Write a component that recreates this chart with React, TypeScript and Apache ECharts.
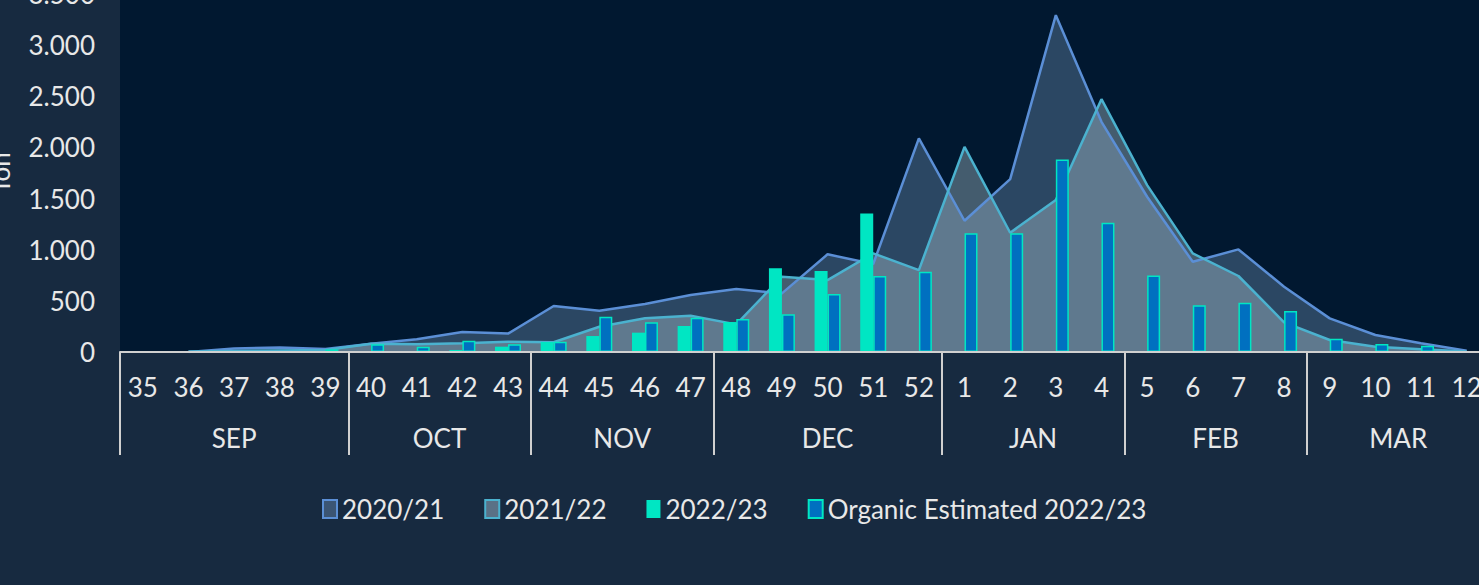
import React, { useEffect, useRef } from "react";
import * as echarts from "echarts";

const weeks = ["35","36","37","38","39","40","41","42","43","44","45","46","47","48","49","50","51","52","1","2","3","4","5","6","7","8","9","10","11","12"];
const monthNames = ["SEP","OCT","NOV","DEC","JAN","FEB","MAR"];
const monthWeekCounts = [5,4,4,5,4,4,4];

const s2020 = [null,0,35,45,30,80,124,195,180,450,404,469,557,616,573,955,860,2088,1283,1690,3293,2250,1518,882,1003,638,329,166,85,13];
const s2021 = [null,5,10,15,20,80,75,85,101,95,247,329,355,270,736,703,964,801,2006,1166,1485,2472,1632,964,743,290,117,52,26,5];
const s2022 = [null,null,null,null,null,null,8,20,52,98,156,189,254,293,818,792,1355,null,null,null,null,null,null,null,null,null,null,null,null,null];
const organic = [5,5,5,5,26,75,52,111,75,101,345,290,336,322,368,567,743,785,1160,1160,1883,1264,749,456,482,401,130,78,62,null];

const yMax = 3500;
const yStep = 500;

const FONT = "Lato";
const TXT = "#e8e8e8";

export default function App() {
  const ref = useRef<HTMLDivElement>(null);
  useEffect(() => {
    if (!ref.current) return;
    const chart = echarts.init(ref.current, null, { renderer: "svg" });
    const bounds: number[] = [0];
    monthWeekCounts.forEach((c) => bounds.push(bounds[bounds.length - 1] + c));
    const centers = monthWeekCounts.map((c, i) => bounds[i] + c / 2);
    const n = weeks.length;
    const band = 45.65;
    const fmtY = (v: number) =>
      v >= 1000 ? `${Math.floor(v / 1000)}.${String(v % 1000).padStart(3, "0")}` : String(v);

    chart.setOption({
      animation: false,
      backgroundColor: "#172a40",
      textStyle: { fontFamily: FONT },
      grid: {
        left: 120,
        top: -6,
        height: 358,
        width: band * n,
        show: true,
        backgroundColor: "#011830",
        borderWidth: 0,
        containLabel: false,
        outerBoundsMode: "none",
      },
      legend: {
        left: 322,
        top: 496,
        padding: 0,
        itemWidth: 14,
        itemHeight: 18,
        itemGap: 40,
        textStyle: { color: TXT, fontSize: 26, fontFamily: FONT },
        data: [
          { name: "2020/21", icon: "rect", itemStyle: { color: "#3b5574", borderColor: "#5b8fd6", borderWidth: 2 } },
          { name: "2021/22", icon: "rect", itemStyle: { color: "#5a7186", borderColor: "#4bb2cf", borderWidth: 2 } },
          { name: "2022/23", icon: "rect", itemStyle: { color: "#00e6c3", borderWidth: 0 } },
          { name: "Organic Estimated 2022/23", icon: "rect", itemStyle: { color: "#0070c0", borderColor: "#00e6c3", borderWidth: 2 } },
        ],
      },
      xAxis: [
        {
          type: "category",
          data: weeks,
          boundaryGap: true,
          axisLine: { show: true, lineStyle: { color: "#d0d0d0", width: 2 } },
          axisTick: { show: false },
          axisLabel: { color: TXT, fontSize: 26, fontFamily: FONT, margin: 22, interval: 0 },
          splitLine: { show: false },
          z: 10,
        },
        {
          type: "value",
          min: 0,
          max: n,
          position: "bottom",
          axisLine: { show: false },
          splitLine: { show: false },
          axisTick: {
            show: true,
            customValues: bounds,
            length: 103,
            lineStyle: { color: "#d0d0d0", width: 2 },
          },
          axisLabel: {
            show: true,
            customValues: centers,
            margin: 73,
            color: TXT,
            fontSize: 26,
            fontFamily: FONT,
            formatter: (v: number) => {
              const i = centers.findIndex((c) => Math.abs(c - v) < 1e-6);
              return i >= 0 ? monthNames[i] : "";
            },
          },
        },
      ],
      yAxis: {
        type: "value",
        min: 0,
        max: yMax,
        interval: yStep,
        name: "Ton",
        nameLocation: "middle",
        nameRotate: 90,
        nameGap: 107,
        nameTextStyle: { color: TXT, fontSize: 26, fontFamily: FONT },
        axisLine: { show: false },
        axisTick: { show: false },
        splitLine: { show: false },
        axisLabel: { color: TXT, fontSize: 26, fontFamily: FONT, margin: 25, formatter: fmtY },
      },
      series: [
        {
          name: "2020/21",
          type: "line",
          z: 2,
          data: s2020,
          symbol: "none",
          lineStyle: { color: "#5b8fd6", width: 2.5 },
          itemStyle: { color: "#5b8fd6" },
          areaStyle: { color: "rgba(86,117,150,0.5)", opacity: 1 },
        },
        {
          name: "2021/22",
          type: "line",
          z: 2,
          data: s2021,
          symbol: "none",
          lineStyle: { color: "#4bb2cf", width: 2.5 },
          itemStyle: { color: "#4bb2cf" },
          areaStyle: { color: "rgba(184,208,216,0.37)", opacity: 1 },
        },
        {
          name: "2022/23",
          type: "bar",
          z: 5,
          data: s2022,
          barWidth: 13,
          barGap: "0%",
          itemStyle: { color: "#00e6c3" },
        },
        {
          name: "Organic Estimated 2022/23",
          type: "bar",
          z: 5,
          data: organic,
          barWidth: 13,
          barGap: "0%",
          itemStyle: { color: "#0070c0", borderColor: "#00e6c3", borderWidth: 1.5 },
        },
      ],
    });
    return () => chart.dispose();
  }, []);
  return (
    <div
      ref={ref}
      style={{ position: "fixed", left: 0, top: 0, width: 1479, height: 585, background: "#172a40" }}
    />
  );
}
